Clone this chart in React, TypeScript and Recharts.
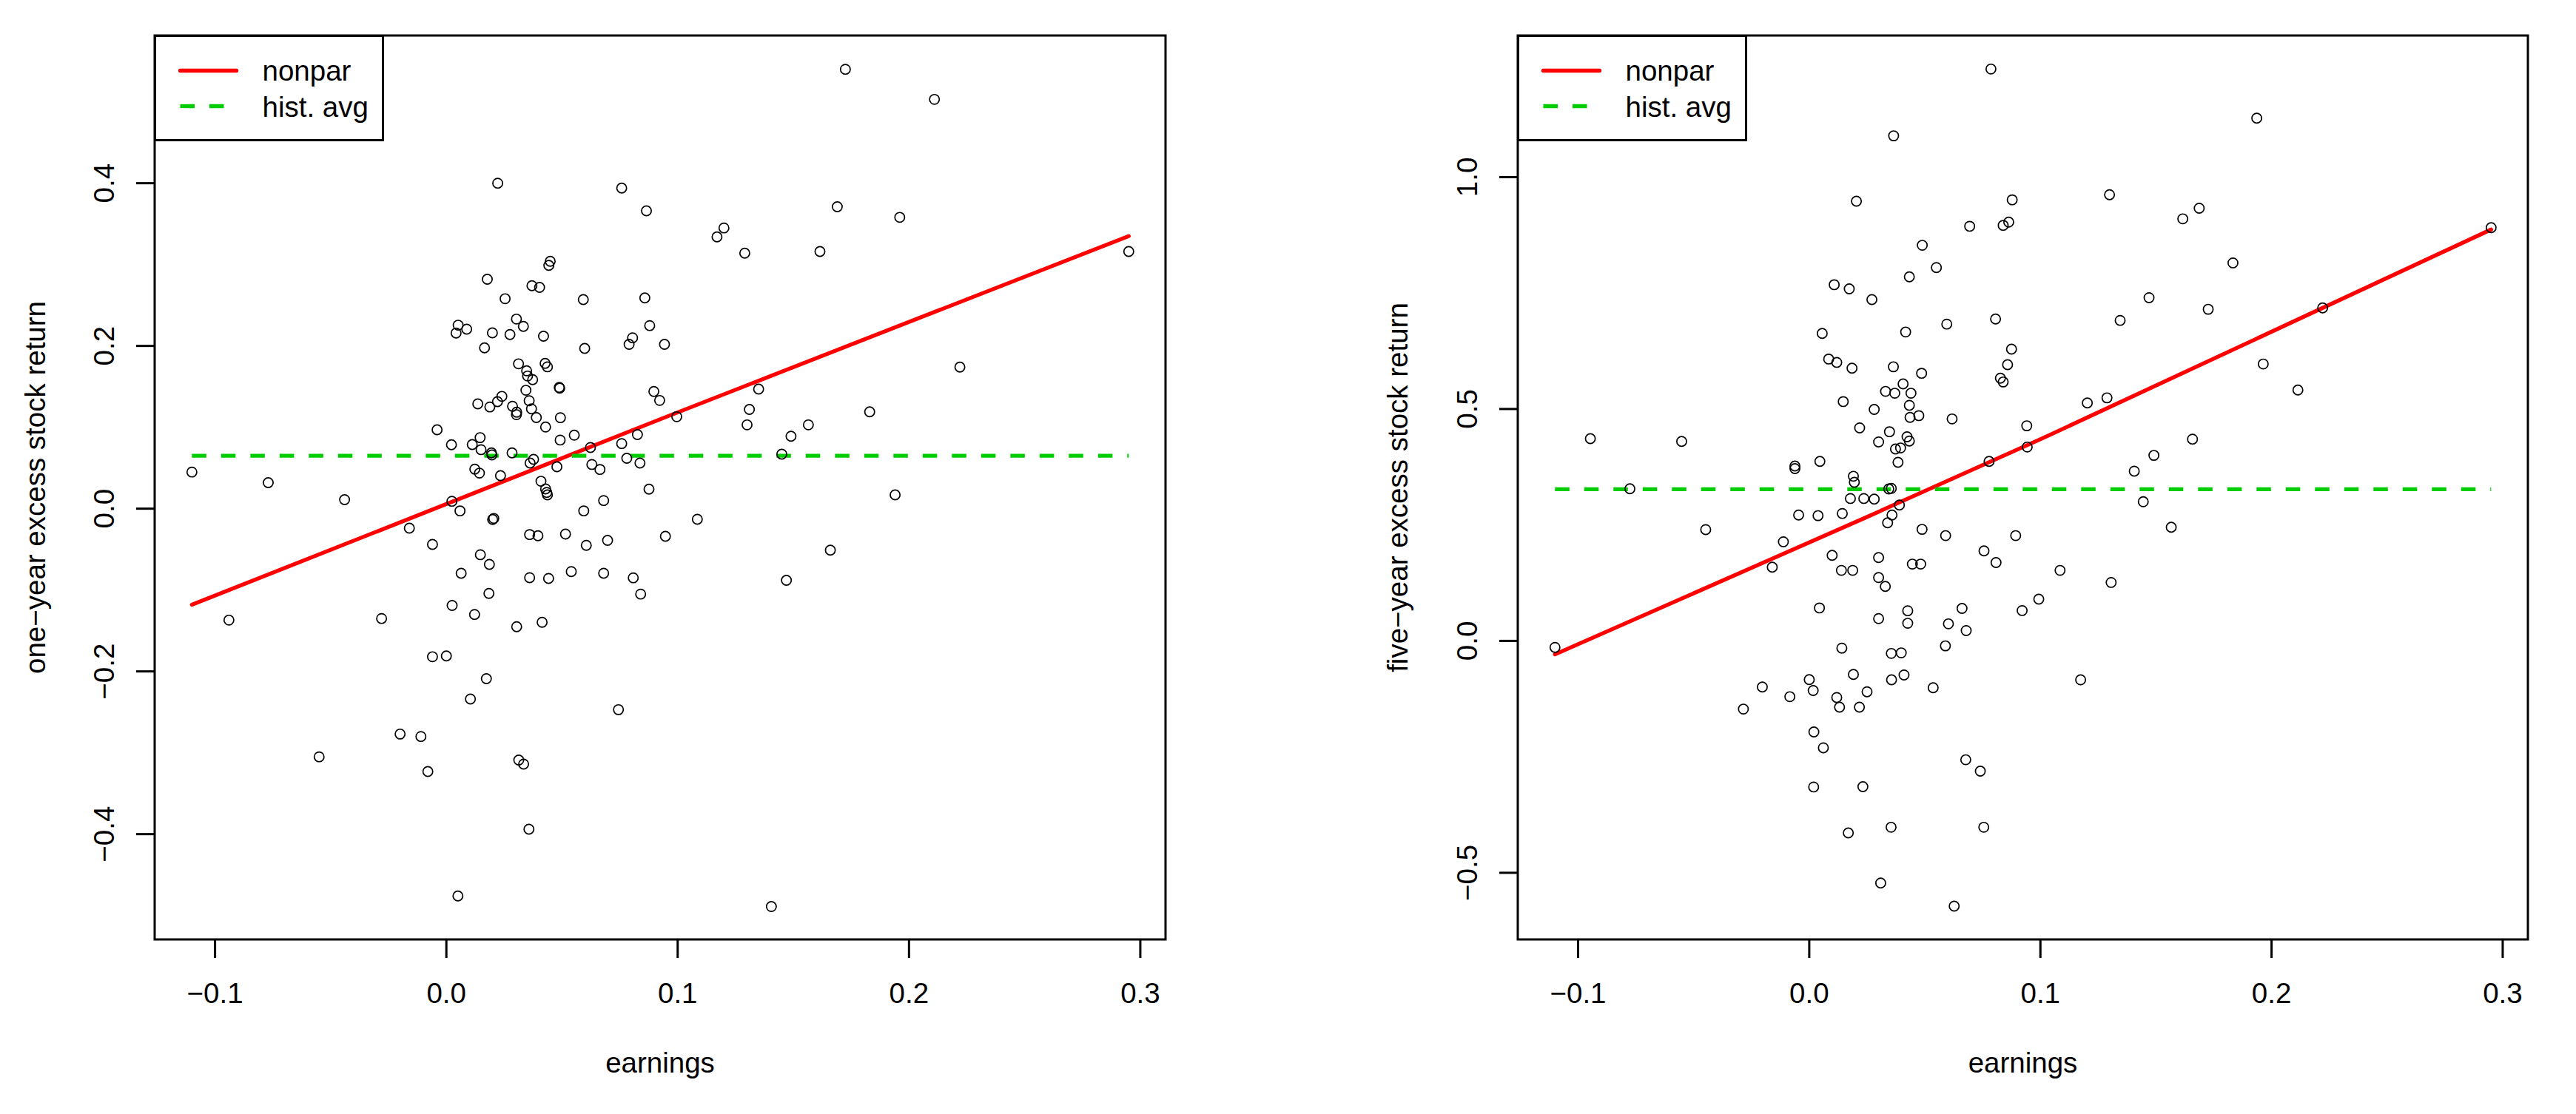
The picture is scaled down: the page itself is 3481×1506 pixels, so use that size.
import React from 'react';
import { ComposedChart, Scatter, Line, XAxis, YAxis, ReferenceArea, Legend } from 'recharts';

type Pt = [number, number];

// axis ticks
const earningsTicks = [-0.1, 0, 0.1, 0.2, 0.3];
const oneYearTicks = [-0.4, -0.2, 0, 0.2, 0.4];
const fiveYearTicks = [-0.5, 0, 0.5, 1.0];

// earnings vs one-year excess stock return
const oneYearPoints: Pt[] = [
  [-0.110, 0.045], [-0.094, -0.137], [-0.077, 0.032], [-0.044, 0.011], [-0.055, -0.305], [-0.028, -0.135],
  [-0.016, -0.024], [-0.020, -0.277], [-0.011, -0.280], [-0.008, -0.323], [-0.006, -0.044], [-0.004, 0.097],
  [-0.006, -0.182], [0.000, -0.181], [0.005, -0.476], [0.1725, 0.540], [0.211, 0.503], [0.169, 0.371],
  [0.196, 0.358], [0.1615, 0.316], [0.295, 0.316], [0.117, 0.334], [0.120, 0.345], [0.129, 0.314],
  [0.222, 0.174], [0.135, 0.147], [0.131, 0.122], [0.130, 0.103], [0.183, 0.119], [0.1565, 0.103],
  [0.149, 0.089], [0.145, 0.067], [0.194, 0.017], [0.166, -0.051], [0.147, -0.088], [0.1085, -0.013],
  [0.0996, 0.113], [0.1405, -0.489], [0.0744, -0.247], [0.0758, 0.394], [0.0865, 0.366], [0.0858, 0.259],
  [0.0943, 0.202], [0.0879, 0.225], [0.0897, 0.144], [0.0922, 0.133], [0.0805, 0.210], [0.079, 0.202],
  [0.0947, -0.034], [0.084, -0.105], [0.0808, -0.085], [0.0876, 0.024], [0.0837, 0.056], [0.0826, 0.091],
  [0.078, 0.062], [0.0758, 0.080],
  [0.0222, 0.400], [0.0449, 0.304], [0.0443, 0.299], [0.0177, 0.282], [0.0370, 0.274], [0.0403, 0.272],
  [0.0254, 0.258], [0.0592, 0.257], [0.0051, 0.2255], [0.0042, 0.2158], [0.0088, 0.2206], [0.0199, 0.216],
  [0.0275, 0.214], [0.0303, 0.233], [0.0333, 0.224], [0.0420, 0.212], [0.0165, 0.1976], [0.0598, 0.197],
  [0.0312, 0.178], [0.0427, 0.1785], [0.0437, 0.1743], [0.0347, 0.1694], [0.0351, 0.163], [0.0373, 0.1585],
  [0.0488, 0.149], [0.049, 0.148], [0.0344, 0.1455], [0.024, 0.138], [0.0221, 0.1315], [0.0136, 0.1288],
  [0.0188, 0.125], [0.0358, 0.1327], [0.0286, 0.1258], [0.0304, 0.1185], [0.0303, 0.1155], [0.0368, 0.1227],
  [0.0389, 0.112], [0.0493, 0.1118], [0.0429, 0.1003], [0.0492, 0.0843], [0.0553, 0.0903], [0.0146, 0.0873],
  [0.0022, 0.0785], [0.0112, 0.0788], [0.0150, 0.0725], [0.0195, 0.0685], [0.0197, 0.066], [0.0284, 0.0685],
  [0.0623, 0.0752], [0.0377, 0.0606], [0.0362, 0.0561], [0.0478, 0.0515], [0.0629, 0.0543], [0.0664, 0.0482],
  [0.0123, 0.0485], [0.0143, 0.0437], [0.0234, 0.0406], [0.0409, 0.0337], [0.0429, 0.0243], [0.0434, 0.020],
  [0.0437, 0.017], [0.068, 0.010], [0.0024, 0.0091], [0.0059, -0.0027], [0.0594, -0.0027], [0.020, -0.0133],
  [0.0205, -0.012],
  [0.036, -0.0318], [0.0396, -0.0333], [0.0515, -0.0312], [0.0605, -0.0451], [0.0697, -0.039], [0.0147, -0.0566],
  [0.0186, -0.0685], [0.0064, -0.0794], [0.036, -0.0848], [0.0442, -0.0857], [0.054, -0.0773], [0.068, -0.0794],
  [0.0184, -0.1042], [0.0025, -0.119], [0.0122, -0.130], [0.0304, -0.1451], [0.0414, -0.1396], [0.0173, -0.209],
  [0.0104, -0.234], [0.0313, -0.309], [0.0334, -0.314], [0.0357, -0.394],
];

// earnings vs five-year excess stock return (right panel)
const fiveYearPoints: Pt[] = [
  [-0.110, -0.014], [-0.0947, 0.436], [-0.0776, 0.328], [-0.0552, 0.430], [-0.0448, 0.240], [-0.0285, -0.147],
  [-0.0203, -0.0995], [-0.016, 0.159], [0.0786, 1.233], [0.1085, 0.152], [0.1174, -0.084], [0.1306, 0.126],
  [0.1203, 0.513], [0.1288, 0.524], [0.1345, 0.691], [0.147, 0.740], [0.1299, 0.962], [0.1406, 0.366],
  [0.1445, 0.300], [0.1491, 0.400], [0.1566, 0.245], [0.1658, 0.435], [0.1616, 0.910], [0.1687, 0.933],
  [0.1726, 0.715], [0.1833, 0.815], [0.1936, 1.127], [0.1964, 0.597], [0.2114, 0.541], [0.2221, 0.718],
  [0.295, 0.891],
  [0.0365, 1.089], [0.0204, 0.948], [0.0878, 0.951], [0.0694, 0.894], [0.0839, 0.896], [0.0863, 0.903],
  [0.0489, 0.853], [0.055, 0.805], [0.0433, 0.785], [0.0108, 0.768], [0.0173, 0.759], [0.0271, 0.736],
  [0.0595, 0.683], [0.0806, 0.694], [0.0056, 0.663], [0.0417, 0.666], [0.0875, 0.629], [0.0858, 0.5955],
  [0.0827, 0.5665], [0.0839, 0.5583], [0.0084, 0.6077], [0.0119, 0.6005], [0.0185, 0.588], [0.0364, 0.591],
  [0.0486, 0.577], [0.0406, 0.554], [0.033, 0.538], [0.037, 0.534], [0.044, 0.534], [0.0433, 0.508],
  [0.0436, 0.482], [0.0474, 0.4857], [0.0618, 0.4786], [0.0147, 0.516], [0.0281, 0.499], [0.0941, 0.4638],
  [0.0218, 0.4593], [0.0347, 0.451], [0.0423, 0.440], [0.0433, 0.431], [0.030, 0.429], [0.0373, 0.4137],
  [0.0395, 0.416], [0.0943, 0.418], [0.0384, 0.385], [0.0046, 0.387], [0.0778, 0.387], [-0.0062, 0.377],
  [-0.0062, 0.3715], [0.0191, 0.355], [0.0195, 0.342], [0.0344, 0.3276], [0.0355, 0.3287], [0.0178, 0.307],
  [0.0236, 0.307], [0.0281, 0.3056], [0.039, 0.293],
  [-0.0046, 0.2713], [0.0038, 0.270], [0.0143, 0.2747], [0.0358, 0.2713], [0.0339, 0.2546], [-0.0112, 0.2137],
  [0.0099, 0.1845], [0.0139, 0.152], [0.0188, 0.152], [0.030, 0.1796], [0.030, 0.1365], [0.0329, 0.1174],
  [0.0488, 0.2405], [0.059, 0.227], [0.0893, 0.227], [0.0756, 0.194], [0.0808, 0.169], [0.0446, 0.1656],
  [0.0482, 0.1656], [0.0044, 0.071], [0.030, 0.048], [0.0426, 0.065], [0.0426, 0.038], [0.0661, 0.070],
  [0.0602, 0.0368], [0.0679, 0.0223], [0.0589, -0.0107], [0.0921, 0.0654], [0.0993, 0.090], [0.0141, -0.0156],
  [0.0355, -0.027], [0.0398, -0.0258], [0.0191, -0.0723], [0.0356, -0.0839], [0.041, -0.0734], [0.0536, -0.101],
  [0.0000, -0.0834], [0.0017, -0.107], [-0.0084, -0.1203], [0.0119, -0.122], [0.0131, -0.1428], [0.025, -0.1097],
  [0.0217, -0.1428], [0.002, -0.1963], [0.0061, -0.2305], [0.0677, -0.2563], [0.074, -0.2809], [0.0019, -0.315],
  [0.0232, -0.3144], [0.0169, -0.414], [0.0354, -0.4018], [0.0755, -0.4018], [0.0309, -0.522], [0.0627, -0.572],
];

// fitted curves
const oneYearNonpar: Pt[] = [[-0.110, -0.118], [-0.0136, -0.0096], [0.0952, 0.113], [0.295, 0.335]];
const fiveYearNonpar: Pt[] = [[-0.110, -0.029], [0.024, 0.265], [0.101, 0.437], [0.295, 0.887]];
const oneYearHistAvg = 0.065;
const fiveYearHistAvg = 0.327;
const histAvgSpan = [-0.110, 0.295];

const X_DOMAIN: [number, number] = [-0.1261, 0.3109];
const FONT = '"Liberation Sans", Arial, Helvetica, sans-serif';
const FS = 38.5;
const RED = '#FF0000';
const GREEN = '#00CD00';
const DASH = '19.5 20';

// legend entries, in the order R drew them
const seriesStyles = [
  { name: 'nonpar', color: RED, dash: undefined as string | undefined },
  { name: 'hist. avg', color: GREEN, dash: DASH },
];

const fmt = (v: number) => v.toFixed(1).replace('-', '\u2212');
const toRows = (pts: Pt[]) => pts.map(([x, y]) => ({ x, y }));

const XTick = (props: any) => {
  const { x, y, payload } = props;
  return (
    <text x={x} y={y + 61} textAnchor="middle" fontSize={FS} fontFamily={FONT} fill="#000">
      {fmt(payload.value)}
    </text>
  );
};

const YTick = (props: any) => {
  const { x, y, payload } = props;
  const bx = x - 30;
  return (
    <text x={bx} y={y} transform={`rotate(-90, ${bx}, ${y})`} textAnchor="middle" fontSize={FS} fontFamily={FONT} fill="#000">
      {fmt(payload.value)}
    </text>
  );
};

const renderLegend = (props: any) => {
  const names = new Set((props.payload || []).map((p: any) => p.value));
  const items = seriesStyles.filter((s) => names.has(s.name));
  return (
    <svg width={311} height={144} style={{ display: 'block' }}>
      <rect x={1.5} y={1.5} width={308} height={141} fill="#fff" stroke="#000" strokeWidth={3} />
      {items.map((it, i) => (
        <g key={it.name}>
          <line
            x1={35.5}
            x2={111.5}
            y1={48.5 + 48 * i}
            y2={48.5 + 48 * i}
            stroke={it.color}
            strokeWidth={5.3}
            strokeLinecap={it.dash ? 'butt' : 'round'}
            strokeDasharray={it.dash}
          />
          <text x={146.5} y={61.5 + 49 * i} fontSize={FS} fontFamily={FONT} fill="#000">
            {it.name}
          </text>
        </g>
      ))}
    </svg>
  );
};

interface PanelProps {
  points: Pt[];
  nonpar: Pt[];
  histAvg: number;
  yTicks: number[];
  yDomain: [number, number];
  width: number;
  marginLeft: number;
  marginRight: number;
}

const Panel: React.FC<PanelProps> = ({ points, nonpar, histAvg, yTicks, yDomain, width, marginLeft, marginRight }) => {
  const hist = histAvgSpan.map((x) => ({ x, y: histAvg }));
  return (
    <ComposedChart
      width={width}
      height={1506}
      margin={{ top: 48, right: marginRight, bottom: 136, left: marginLeft }}
    >
      <XAxis
        type="number"
        dataKey="x"
        domain={X_DOMAIN}
        allowDataOverflow
        ticks={earningsTicks}
        interval={0}
        height={100}
        axisLine={false}
        tickSize={25}
        tickMargin={0}
        tickLine={{ stroke: '#000', strokeWidth: 3 }}
        tick={<XTick />}
      />
      <YAxis
        type="number"
        dataKey="y"
        domain={yDomain}
        allowDataOverflow
        ticks={yTicks}
        interval={0}
        width={100}
        axisLine={false}
        tickSize={25}
        tickMargin={0}
        tickLine={{ stroke: '#000', strokeWidth: 3 }}
        tick={<YTick />}
      />
      <ReferenceArea
        x1={X_DOMAIN[0]}
        x2={X_DOMAIN[1]}
        y1={yDomain[0]}
        y2={yDomain[1]}
        fill="none"
        fillOpacity={0}
        stroke="#000"
        strokeWidth={3}
        ifOverflow="visible"
      />
      <Scatter
        data={toRows(points)}
        dataKey="y"
        legendType="none"
        isAnimationActive={false}
        shape={(p: any) => <circle cx={p.cx} cy={p.cy} r={6.6} fill="none" stroke="#000" strokeWidth={1.7} />}
      />
      <Line
        data={toRows(nonpar)}
        dataKey="y"
        name={seriesStyles[0].name}
        type="linear"
        stroke={seriesStyles[0].color}
        strokeWidth={5.3}
        strokeLinecap="round"
        dot={false}
        activeDot={false}
        isAnimationActive={false}
      />
      <Line
        data={hist}
        dataKey="y"
        name={seriesStyles[1].name}
        type="linear"
        stroke={seriesStyles[1].color}
        strokeWidth={5.3}
        strokeDasharray={seriesStyles[1].dash}
        dot={false}
        activeDot={false}
        isAnimationActive={false}
      />
      <Legend
        layout="horizontal"
        verticalAlign="middle"
        align="center"
        width={311}
        height={144}
        content={renderLegend}
        wrapperStyle={{ left: marginLeft + 100 - 1.5, top: 46.5, width: 311, height: 144 }}
      />
    </ComposedChart>
  );
};

const titleStyle = { fontSize: FS, fontFamily: FONT, fill: '#000' };

const App: React.FC = () => {
  return (
    <div style={{ position: 'absolute', left: 0, top: 0, width: 3481, height: 1506, background: '#fff' }}>
      <div style={{ position: 'absolute', left: 0, top: 0 }}>
        <Panel
          points={oneYearPoints}
          nonpar={oneYearNonpar}
          histAvg={oneYearHistAvg}
          yTicks={oneYearTicks}
          yDomain={[-0.5294, 0.5815]}
          width={1740}
          marginLeft={109}
          marginRight={165}
        />
      </div>
      <div style={{ position: 'absolute', left: 1740, top: 0 }}>
        <Panel
          points={fiveYearPoints}
          nonpar={fiveYearNonpar}
          histAvg={fiveYearHistAvg}
          yTicks={fiveYearTicks}
          yDomain={[-0.6437, 1.3053]}
          width={1741}
          marginLeft={211}
          marginRight={65}
        />
      </div>
      <svg width={3481} height={1506} style={{ position: 'absolute', left: 0, top: 0, pointerEvents: 'none' }}>
        <text x={892} y={1450} textAnchor="middle" {...titleStyle}>earnings</text>
        <text x={2733.5} y={1450} textAnchor="middle" {...titleStyle}>earnings</text>
        <text x={61} y={659} textAnchor="middle" transform="rotate(-90, 61, 659)" {...titleStyle}>
          one{'\u2212'}year excess stock return
        </text>
        <text x={1902} y={659} textAnchor="middle" transform="rotate(-90, 1902, 659)" {...titleStyle}>
          five{'\u2212'}year excess stock return
        </text>
      </svg>
    </div>
  );
};

export default App;
